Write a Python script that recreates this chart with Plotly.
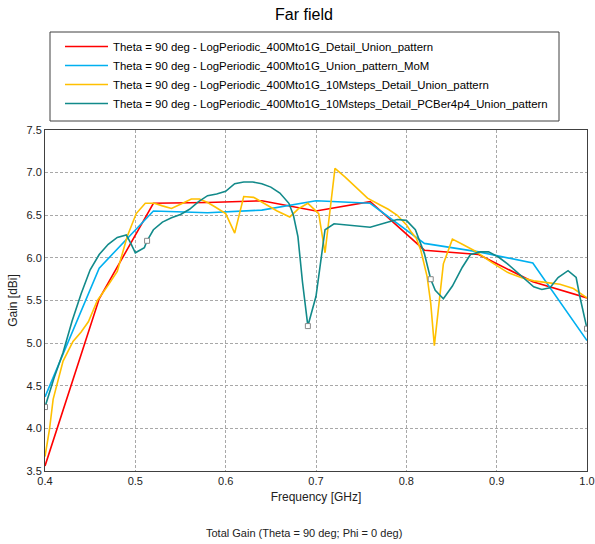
import plotly.graph_objects as go

# ---- data ----
red_freq = [0.40, 0.46, 0.52, 0.58, 0.64, 0.70, 0.76, 0.82, 0.88, 0.94, 1.00]
red_gain = [3.56, 5.52, 6.64, 6.65, 6.67, 6.55, 6.66, 6.09, 6.04, 5.72, 5.53]

blue_freq = [0.40, 0.46, 0.52, 0.58, 0.64, 0.70, 0.76, 0.82, 0.88, 0.94, 1.00]
blue_gain = [4.37, 5.88, 6.55, 6.53, 6.56, 6.67, 6.64, 6.17, 6.07, 5.94, 5.03]

yellow_freq = [0.400, 0.405, 0.409, 0.420, 0.431, 0.440, 0.448, 0.458, 0.470, 0.480,
               0.491, 0.501, 0.511, 0.521, 0.530, 0.540, 0.550, 0.562, 0.571, 0.580,
               0.588, 0.600, 0.610, 0.620, 0.631, 0.642, 0.657, 0.671, 0.681, 0.691,
               0.703, 0.710, 0.721, 0.732, 0.745, 0.757, 0.771, 0.780, 0.790, 0.800,
               0.805, 0.811, 0.816, 0.823, 0.827, 0.831, 0.841, 0.851, 0.862, 0.876,
               0.894, 0.912, 0.927, 0.941, 0.956, 0.970, 0.985, 1.000]
yellow_gain = [3.67, 3.99, 4.34, 4.79, 5.02, 5.13, 5.25, 5.50, 5.68, 5.84,
               6.25, 6.52, 6.64, 6.64, 6.61, 6.58, 6.63, 6.69, 6.69, 6.65,
               6.60, 6.52, 6.29, 6.72, 6.71, 6.64, 6.55, 6.48, 6.58, 6.64,
               6.52, 6.06, 7.05, 6.95, 6.82, 6.70, 6.62, 6.57, 6.50, 6.39,
               6.31, 6.23, 6.09, 5.78, 5.47, 4.97, 5.93, 6.22, 6.16, 6.08,
               5.95, 5.83, 5.77, 5.73, 5.71, 5.69, 5.64, 5.53]

teal_freq = [0.400, 0.410, 0.420, 0.430, 0.440, 0.450, 0.460, 0.470, 0.480, 0.490,
             0.495, 0.500, 0.510, 0.513, 0.520, 0.530, 0.540, 0.550, 0.560, 0.570,
             0.580, 0.590, 0.600, 0.610, 0.620, 0.630, 0.640, 0.650, 0.660, 0.670,
             0.675, 0.680, 0.685, 0.691, 0.700, 0.705, 0.710, 0.720, 0.740, 0.760,
             0.780, 0.790, 0.800, 0.810, 0.820, 0.827, 0.832, 0.841, 0.851, 0.862,
             0.871, 0.882, 0.891, 0.902, 0.912, 0.930, 0.941, 0.950, 0.959, 0.968,
             0.979, 0.988, 0.992, 1.000]
teal_gain = [4.25, 4.59, 4.89, 5.26, 5.58, 5.86, 6.04, 6.16, 6.24, 6.27,
             6.17, 6.06, 6.12, 6.20, 6.33, 6.42, 6.47, 6.51, 6.57, 6.66,
             6.73, 6.75, 6.78, 6.87, 6.89, 6.89, 6.87, 6.83, 6.76, 6.64,
             6.50, 6.25, 5.72, 5.20, 5.55, 5.95, 6.33, 6.40, 6.38, 6.36,
             6.42, 6.45, 6.44, 6.33, 6.05, 5.75, 5.62, 5.52, 5.67, 5.89,
             6.04, 6.07, 6.07, 6.01, 5.93, 5.76, 5.66, 5.63, 5.65, 5.77,
             5.85, 5.77, 5.55, 5.17]

marker_freq = [0.400, 0.513, 0.691, 0.827, 1.000]
marker_gain = [4.25, 6.20, 5.20, 5.75, 5.17]

names = [
    "Theta = 90 deg - LogPeriodic_400Mto1G_Detail_Union_pattern",
    "Theta = 90 deg - LogPeriodic_400Mto1G_Union_pattern_MoM",
    "Theta = 90 deg - LogPeriodic_400Mto1G_10Msteps_Detail_Union_pattern",
    "Theta = 90 deg - LogPeriodic_400Mto1G_10Msteps_Detail_PCBer4p4_Union_pattern",
]
colors = ["#ff0000", "#00b0f0", "#ffc000", "#128a8a"]

x_ticks = [0.4, 0.5, 0.6, 0.7, 0.8, 0.9, 1.0]
y_ticks = [3.5, 4.0, 4.5, 5.0, 5.5, 6.0, 6.5, 7.0, 7.5]

FONT = "Liberation Sans, Arial, sans-serif"

# plot-area geometry in pixels
W, H = 595, 544
L, R, T, B = 45, 8, 130, 73
PW, PH = W - L - R, H - T - B


def px_x(p):
    return (p - L) / PW


def px_y(p):
    return (H - B - p) / PH


fig = go.Figure()
series = [(red_freq, red_gain), (blue_freq, blue_gain),
          (yellow_freq, yellow_gain), (teal_freq, teal_gain)]
for (xs, ys), name, col in zip(series, names, colors):
    fig.add_trace(go.Scatter(x=xs, y=ys, mode="lines", name=name,
                             line=dict(color=col, width=1.6)))

fig.add_trace(go.Scatter(x=marker_freq, y=marker_gain, mode="markers",
                         showlegend=False,
                         marker=dict(symbol="square", size=5, color="white",
                                     line=dict(color="#888888", width=1))))

fig.update_layout(
    width=W, height=H,
    margin=dict(l=L, r=R, t=T, b=B, autoexpand=False),
    paper_bgcolor="white", plot_bgcolor="white",
    font=dict(family=FONT, size=11, color="#222222"),
    title=dict(text="Far field", x=px_x(304), xref="paper", xanchor="center",
               y=1 - 14 / H, yref="container", yanchor="middle",
               font=dict(size=16, color="#000000", family=FONT)),
    legend=dict(x=px_x(60), y=px_y(32), xanchor="left", yanchor="top",
                borderwidth=0, bgcolor="rgba(0,0,0,0)", itemwidth=43,
                font=dict(size=11.4, color="#000000", family=FONT)),
    showlegend=True,
    shapes=[dict(type="rect", xref="paper", yref="paper",
                 x0=px_x(50), x1=px_x(559), y0=px_y(121), y1=px_y(32),
                 line=dict(color="#404040", width=1), layer="above")],
)

fig.update_xaxes(range=[0.4, 1.0], tickvals=x_ticks, tickformat=".1f",
                 showline=True, linecolor="#404040", linewidth=1, mirror=True,
                 showgrid=True, gridcolor="#a8a8a8", griddash="3px,2px", gridwidth=1,
                 zeroline=False, ticks="", automargin=False,
                 title=dict(text="Frequency [GHz]", standoff=6, font=dict(size=12)))
fig.update_yaxes(range=[3.5, 7.5], tickvals=y_ticks, tickformat=".1f",
                 showline=True, linecolor="#404040", linewidth=1, mirror=True,
                 showgrid=True, gridcolor="#a8a8a8", griddash="3px,2px", gridwidth=1,
                 zeroline=False, ticks="", automargin=False,
                 title=dict(text="Gain [dBi]", standoff=6, font=dict(size=12)))

fig.add_annotation(text="Total Gain (Theta = 90 deg; Phi = 0 deg)",
                   xref="paper", yref="paper", x=px_x(304), y=px_y(533),
                   xanchor="center", yanchor="middle", showarrow=False,
                   font=dict(size=11, color="#222222"))

fig.write_html("out.html", config={"displayModeBar": False},
               post_script="document.body.style.margin='0';document.body.style.padding='0';")
